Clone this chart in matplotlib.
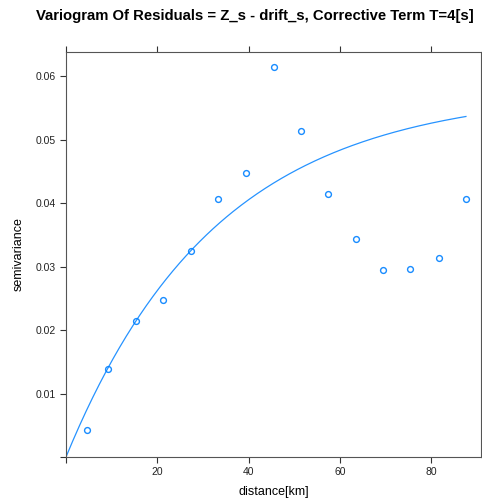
import numpy as np
import matplotlib
matplotlib.use("Agg")
import matplotlib.pyplot as plt

plt.rcParams['font.family'] = ['Liberation Sans', 'DejaVu Sans']

# empirical variogram
distance = [4.5, 9.3, 15.3, 21.3, 27.3, 33.2, 39.5, 45.6, 51.4, 57.4, 63.6, 69.5, 75.4, 81.7, 87.6]
gamma = [0.0042, 0.0139, 0.0214, 0.0247, 0.0325, 0.0406, 0.0447, 0.0614, 0.0513, 0.0414, 0.0343, 0.0294, 0.0296, 0.0313, 0.0407]

# fitted exponential model parameters
model_sill = 0.0577
model_range = 33.0
model_maxdist = 87.6

xticks = [0, 20, 40, 60, 80]
xticklabels = ['', '20', '40', '60', '80']
yticks = [0.0, 0.01, 0.02, 0.03, 0.04, 0.05, 0.06]
yticklabels = ['', '0.01', '0.02', '0.03', '0.04', '0.05', '0.06']

W, H = 482, 503
fig = plt.figure(figsize=(W / 100, H / 100), dpi=100)
ax = fig.add_axes([66 / W, (H - 457) / H, (481 - 66) / W, (457 - 52) / H])

blue = '#0080ff'
h = np.linspace(0, model_maxdist, 300)
ax.plot(h, model_sill * (1 - np.exp(-h / model_range)), color=blue, lw=0.9, alpha=0.85)
ax.plot(distance, gamma, 'o', mfc='none', mec=blue, ms=4.2, mew=1.0, alpha=0.9)

ax.set_xlim(0, 90.9)
ax.set_ylim(0, 0.0638)
ax.set_xticks(xticks)
ax.set_xticklabels(xticklabels)
ax.set_yticks(yticks)
ax.set_yticklabels(yticklabels)
ax.tick_params(axis='both', direction='out', length=4.5, width=0.8, color='#333333',
               labelsize=7.5, labelcolor='#222222', pad=3,
               top=True, right=True, labeltop=False, labelright=False)
for s in ax.spines.values():
    s.set_color('#555555')
    s.set_linewidth(0.8)

ax.set_xlabel('distance[km]', fontsize=9, labelpad=6)
ax.set_ylabel('semivariance', fontsize=9, labelpad=8)

fig.text(36 / W, 1 - 16 / H, 'Variogram Of Residuals = Z_s - drift_s, Corrective Term T=4[s]',
         ha='left', va='center', fontsize=10.75, fontweight='bold')

fig.savefig('out.png', dpi=100)
